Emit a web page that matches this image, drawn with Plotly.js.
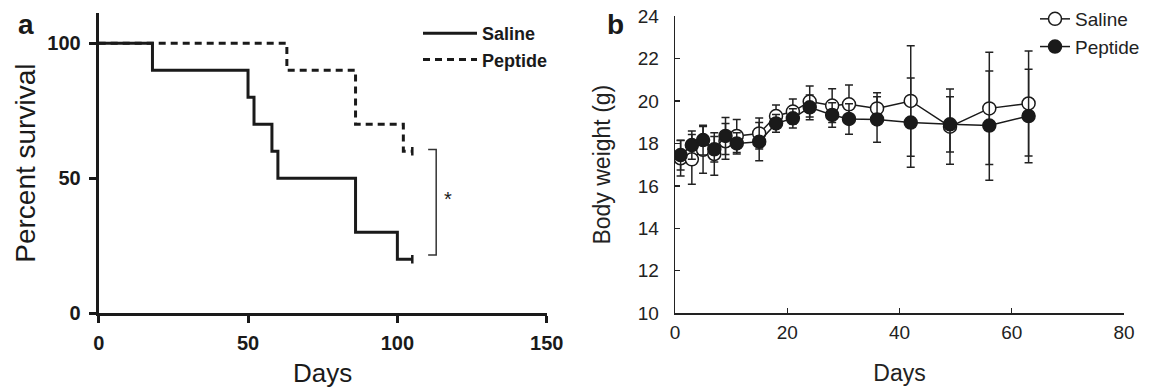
<!DOCTYPE html>
<html><head><meta charset="utf-8">
<script src="https://cdn.plot.ly/plotly-3.0.1.min.js"></script>
<style>html,body{margin:0;padding:0;background:#fff}#chart{width:1149px;height:388px}</style>
</head><body><div id="chart"></div>
<script>
// ---- Panel a: Kaplan-Meier survival ----
const survivalSeries = ['Saline', 'Peptide'];
const salineSurvDays = [0, 18, 50, 52, 58, 60, 86, 100, 105];
const salineSurv = [100, 90, 80, 70, 60, 50, 30, 20, 20];
const peptideSurvDays = [0, 63, 86, 102, 105];
const peptideSurv = [100, 90, 70, 60, 60];
const survXTicks = [0, 50, 100, 150];
const survYTicks = [0, 50, 100];
const significanceLabel = '*';

// ---- Panel b: body weight ----
const weightSeries = ['Saline', 'Peptide'];
const weightDays = [1, 3, 5, 7, 9, 11, 15, 18, 21, 24, 28, 31, 36, 42, 49, 56, 63];
const salineWeight = [17.3, 17.25, 17.7, 17.5, 18.1, 18.35, 18.47, 19.29, 19.5, 19.97, 19.78, 19.84, 19.65, 20.0, 18.79, 19.65, 19.88];
const salineSD = [0.84, 1.17, 1.1, 1.0, 0.84, 0.78, 0.73, 0.52, 0.59, 0.73, 0.8, 0.91, 0.74, 2.6, 1.77, 2.64, 2.47];
const peptideWeight = [17.45, 17.92, 18.16, 17.72, 18.35, 18.0, 18.08, 18.94, 19.18, 19.7, 19.34, 19.15, 19.13, 18.98, 18.9, 18.84, 19.29];
const peptideSD = [0.7, 0.67, 0.7, 0.6, 0.87, 0.5, 0.9, 0.42, 0.45, 0.58, 0.58, 0.72, 1.07, 2.1, 1.3, 2.57, 2.2];
const weightXTicks = [0, 20, 40, 60, 80];
const weightYTicks = [10, 12, 14, 16, 18, 20, 22, 24];

const F = 'Arial, "Liberation Sans", Helvetica, sans-serif';
const INK = '#1a1a1a';

const last = a => a[a.length - 1];

const traces = [
  {x: salineSurvDays, y: salineSurv, name: survivalSeries[0], type: 'scatter', mode: 'lines',
   line: {shape: 'hv', color: INK, width: 3}, xaxis: 'x', yaxis: 'y', legend: 'legend', hoverinfo: 'skip'},
  {x: peptideSurvDays, y: peptideSurv, name: survivalSeries[1], type: 'scatter', mode: 'lines',
   line: {shape: 'hv', color: INK, width: 3, dash: '7px,5px'}, xaxis: 'x', yaxis: 'y', legend: 'legend', hoverinfo: 'skip'},
  // censor ticks at the last follow-up day
  {x: [last(salineSurvDays), last(peptideSurvDays)], y: [last(salineSurv), last(peptideSurv)], type: 'scatter', mode: 'markers',
   marker: {symbol: 'line-ns', size: 6, line: {width: 2.5, color: INK}}, showlegend: false, xaxis: 'x', yaxis: 'y', hoverinfo: 'skip'},
  {x: weightDays, y: salineWeight, name: weightSeries[0], type: 'scatter', mode: 'lines+markers',
   error_y: {type: 'data', array: salineSD, visible: true, color: '#222', thickness: 1.5, width: 4},
   line: {color: INK, width: 1.5}, marker: {symbol: 'circle', size: 13, color: '#fff', line: {color: INK, width: 1.5}},
   xaxis: 'x2', yaxis: 'y2', legend: 'legend2'},
  {x: weightDays, y: peptideWeight, name: weightSeries[1], type: 'scatter', mode: 'lines+markers',
   error_y: {type: 'data', array: peptideSD, visible: true, color: '#222', thickness: 1.5, width: 4},
   line: {color: INK, width: 1.5}, marker: {symbol: 'circle', size: 13, color: INK, line: {color: INK, width: 1.5}},
   xaxis: 'x2', yaxis: 'y2', legend: 'legend2'}
];

// significance bracket between final survival levels
const bx = last(salineSurvDays) + 8;
const bTop = last(peptideSurv) + 0.7;
const bBot = last(salineSurv) + 1.6;

const W = 1149, H = 388;
const layout = {
  width: W, height: H, margin: {l: 0, r: 0, t: 0, b: 0},
  paper_bgcolor: '#fff', plot_bgcolor: 'rgba(0,0,0,0)',
  font: {family: F, color: INK},
  xaxis: {domain: [98.7 / W, 546.7 / W], range: [0, 150], tickvals: survXTicks, anchor: 'y',
    showline: true, linewidth: 3, linecolor: INK, ticks: 'outside', ticklen: 7, tickwidth: 3, tickcolor: INK,
    showgrid: false, zeroline: false, tickfont: {family: F, size: 20, weight: 'bold', color: INK}, ticklabelstandoff: 3,
    title: {text: 'Days', font: {family: F, size: 26, color: INK}, standoff: 14}},
  yaxis: {domain: [(H - 313.3) / H, (H - 13) / H], range: [0, 111.2], tickvals: survYTicks, anchor: 'x',
    showline: true, linewidth: 3, linecolor: INK, ticks: 'outside', ticklen: 7, tickwidth: 3, tickcolor: INK,
    showgrid: false, zeroline: false, tickfont: {family: F, size: 20, weight: 'bold', color: INK}, ticklabelstandoff: 4,
    title: {text: 'Percent survival', font: {family: F, size: 28, color: INK}, standoff: 4}},
  xaxis2: {domain: [675 / W, 1124 / W], range: [0, 80], tickvals: weightXTicks, anchor: 'y2',
    showline: true, linewidth: 1.3, linecolor: '#222', ticks: 'inside', ticklen: 5, tickwidth: 1.3, tickcolor: '#222',
    showgrid: false, zeroline: false, tickfont: {family: F, size: 19, color: '#222'}, ticklabelstandoff: 2,
    title: {text: 'Days', font: {family: F, size: 23, color: '#222'}, standoff: 22}},
  yaxis2: {domain: [(H - 313.3) / H, (H - 16) / H], range: [10, 24], tickvals: weightYTicks, anchor: 'x2',
    showline: true, linewidth: 1.3, linecolor: '#222', ticks: 'inside', ticklen: 5, tickwidth: 1.3, tickcolor: '#222',
    showgrid: false, zeroline: false, tickfont: {family: F, size: 19, color: '#222'}, ticklabelstandoff: 11,
    title: {text: 'Body weight (g)', font: {family: F, size: 23, color: '#222'}, standoff: 20}},
  legend: {x: 418 / W, y: 1 - 15 / H, xanchor: 'left', yanchor: 'top', bgcolor: 'rgba(0,0,0,0)',
    font: {family: F, size: 18, weight: 'bold', color: INK}, tracegroupgap: 0, itemwidth: 54},
  legend2: {x: 1035 / W, y: 1, xanchor: 'left', yanchor: 'top', bgcolor: 'rgba(0,0,0,0)',
    font: {family: F, size: 19, color: '#222'}, tracegroupgap: 0, itemwidth: 30},
  shapes: [
    {type: 'path', xref: 'x', yref: 'y', path: `M ${bx - 2.7} ${bTop} L ${bx} ${bTop} L ${bx} ${bBot} L ${bx - 2.7} ${bBot}`,
     line: {color: '#333', width: 1.5}}
  ],
  annotations: [
    {text: 'a', xref: 'paper', yref: 'paper', x: 26 / W, y: 1 - 25 / H, xanchor: 'center', yanchor: 'middle', showarrow: false,
     font: {family: F, size: 28, weight: 'bold', color: INK}},
    {text: 'b', xref: 'paper', yref: 'paper', x: 615 / W, y: 1 - 24 / H, xanchor: 'center', yanchor: 'middle', showarrow: false,
     font: {family: F, size: 28, weight: 'bold', color: INK}},
    {text: significanceLabel, xref: 'x', yref: 'y', x: bx + 3.8, y: (bTop + bBot) / 2 + 1, showarrow: false,
     font: {family: F, size: 20, color: INK}}
  ]
};

Plotly.newPlot('chart', traces, layout, {displayModeBar: false, staticPlot: true});
</script>
</body></html>
